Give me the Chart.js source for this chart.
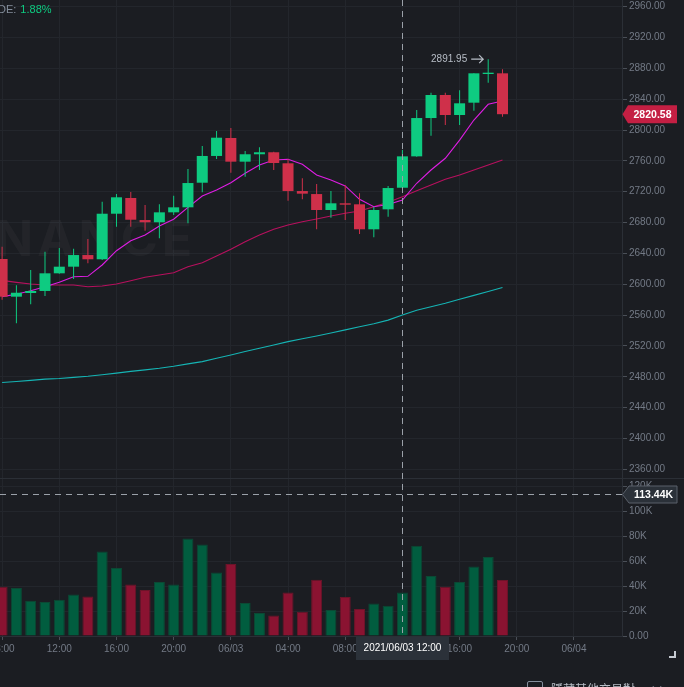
<!DOCTYPE html>
<html>
<head>
<meta charset="utf-8">
<script src="https://cdn.jsdelivr.net/npm/chart.js@4.4.0/dist/chart.umd.min.js"></script>
<style>
html,body{margin:0;padding:0;background:#1b1d22;overflow:hidden;}
#wrap{position:relative;width:684px;height:687px;overflow:hidden;}
#c{position:absolute;left:0;top:0;}
#legend{position:absolute;left:-2px;top:3px;font:11px "Liberation Sans",Arial,sans-serif;color:#848e9c;white-space:nowrap;}
#legend .v{color:#0ecb81;margin-left:4px;}
#foot{position:absolute;left:527px;top:681px;display:flex;align-items:flex-start;font:12px "Noto Sans CJK TC",sans-serif;color:#b7bdc6;white-space:nowrap;}
#foot .cb{width:16px;height:16px;border:1px solid #848e9c;border-radius:2px;box-sizing:border-box;margin-right:8px;}
#foot .t{line-height:16px;}
#foot .x{margin-left:15px;line-height:16px;font-size:14px;color:#848e9c;}
</style>
</head>
<body>
<div id="wrap">
<canvas id="c" width="684" height="687"></canvas>
<div id="legend">DE:<span class="v">1.88%</span></div>
<div id="foot"><span class="cb"></span><span class="t">隱藏其他交易對</span><span class="x">×</span></div>
</div>
<script>
// ---- data (hours since 2021/06/02 00:00, 1h candles) ----
const candleHours = [8,9,10,11,12,13,14,15,16,17,18,19,20,21,22,23,24,25,26,27,28,29,30,31,32,33,34,35,36,37,38,39,40,41,42,43];
const opens  = [2632.8,2583.9,2588.7,2591.3,2614.2,2622.8,2637.9,2632.4,2691.5,2711.9,2683.3,2680.4,2693.3,2699.8,2731.7,2766.4,2789.7,2759.0,2768.6,2771.2,2756.9,2720.9,2717.0,2696.3,2705.0,2703.7,2671.3,2697.2,2725.2,2765.9,2815.6,2845.5,2819.5,2835.5,2872.7,2873.6];
const highs  = [2648.7,2598.6,2618.5,2642.2,2647.0,2646.1,2658.7,2707.1,2717.0,2719.7,2702.8,2703.7,2714.9,2749.5,2779.3,2798.8,2802.7,2772.8,2777.6,2771.8,2762.5,2737.4,2730.0,2721.0,2728.4,2718.0,2700.6,2727.5,2774.1,2826.0,2848.5,2848.5,2851.6,2873.6,2891.95,2878.8];
const lows   = [2580.0,2549.4,2574.0,2584.8,2613.5,2606.9,2627.2,2631.5,2674.6,2674.6,2669.5,2659.6,2689.8,2679.0,2719.3,2762.5,2744.7,2739.5,2748.2,2748.2,2708.4,2710.2,2671.3,2686.3,2683.3,2665.2,2660.9,2687.6,2724.5,2765.5,2792.7,2806.6,2806.6,2825.1,2861.4,2817.3];
const closes = [2583.9,2589.0,2591.3,2614.2,2622.8,2637.9,2632.4,2691.5,2712.8,2683.7,2680.4,2693.3,2699.8,2731.3,2766.4,2790.1,2759.0,2768.6,2771.2,2757.3,2720.9,2717.5,2696.3,2705.0,2703.2,2671.3,2696.3,2724.8,2765.9,2815.6,2845.5,2819.5,2834.7,2873.6,2874.4,2820.58];
const volumes = [39400,38400,28300,27200,29100,33300,31700,67700,54400,41300,36800,43200,41300,78100,73300,50900,57600,26400,18400,16500,34900,19500,45100,20800,31200,21600,26100,24300,34900,72300,48000,39500,43200,55700,63200,44800];
const ma7  = [2584,2587,2591.6,2596.8,2602.5,2609.8,2610.3,2625,2643.5,2656.5,2663.9,2675.6,2684.3,2699.8,2714.5,2722.3,2731.7,2743.9,2754.7,2761.2,2762.1,2755.6,2741.7,2735.2,2727.5,2710.2,2700.6,2703.5,2709.3,2731,2748.2,2763.4,2787,2813,2833.4,2837.7];
const ma25 = [2605,2602.5,2600.3,2599,2599,2599,2596.8,2597.7,2600.3,2604.6,2609,2612,2615,2622.8,2628,2636.7,2645.3,2655.2,2663.9,2671.3,2676.9,2681.1,2684.6,2688.5,2692,2695,2700.6,2706.5,2713.6,2721.4,2728.7,2736.1,2741.7,2748.2,2754.7,2761.2];
const ma99 = [2472.5,2473.9,2475.4,2476.9,2477.8,2479.2,2480.6,2482.7,2484.8,2487,2488.9,2491,2493.6,2496.7,2499.7,2504,2508.2,2512.7,2516.9,2521.3,2525.6,2529.3,2533,2536.8,2540.8,2544.8,2548.8,2553.5,2560,2566.4,2570.9,2575.4,2580.5,2585.6,2590.7,2595.7];
const xTickHours  = [8,12,16,20,24,28,32,36,40,44,48];
const xTickLabels = ["08:00","12:00","16:00","20:00","06/03","04:00","08:00","12:00","16:00","20:00","06/04"];
const priceTicks  = [2360,2400,2440,2480,2520,2560,2600,2640,2680,2720,2760,2800,2840,2880,2920,2960];
const volumeTicks = [0,20000,40000,60000,80000,100000,120000];
const crossHour = 36, crossVolume = 113440, crossTimeLabel = "2021/06/03 12:00";
const lastPrice = 2820.58, maxHigh = 2891.95, maxHighHour = 42;

// ---- styles ----
const UP = '#0ecb81', DOWN = '#cf304a';
const VUP = '#015d3f', VDOWN = '#8a1331', VUPB = '#0b4934', VDOWNB = '#6c1429';
const GRID = '#23262c', AXIS = '#2b2f36', TXT = '#737a86';
const FONT = '"Liberation Sans", Arial, sans-serif';

const isUp = i => closes[i] >= opens[i];
const bodyData = candleHours.map((h,i)=>({x:h, y:[opens[i], closes[i]]}));
const wickData = candleHours.map((h,i)=>({x:h, y:[lows[i], highs[i]]}));
const volData  = candleHours.map((h,i)=>({x:h, y:volumes[i]}));
const lineData = arr => candleHours.map((h,i)=>({x:h, y:arr[i]}));

const overlay = {
  id:'overlay',
  beforeDatasetsDraw(chart){
    const ctx = chart.ctx;
    ctx.save();
    ctx.font = 'bold 50px Inter, "Liberation Sans", sans-serif';
    try{ ctx.letterSpacing = '4px'; }catch(e){}
    ctx.fillStyle = 'rgba(255,255,255,0.035)';
    ctx.textAlign = 'right';
    ctx.textBaseline = 'alphabetic';
    ctx.fillText('BINANCE', 196, 256);
    ctx.restore();
  },
  afterDraw(chart){
    const ctx = chart.ctx, xs = chart.scales.x, ys = chart.scales.y, yv = chart.scales.yv;
    const area = chart.chartArea;
    ctx.save();
    // pane separator
    ctx.strokeStyle = AXIS; ctx.lineWidth = 1;
    ctx.beginPath(); ctx.moveTo(0, ys.bottom + 0.5); ctx.lineTo(684, ys.bottom + 0.5); ctx.stroke();
    // crosshair
    const cx = Math.round(xs.getPixelForValue(crossHour)) + 0.5;
    const cy = Math.round(yv.getPixelForValue(crossVolume)) + 0.5;
    ctx.strokeStyle = '#9ba1a9'; ctx.setLineDash([6,5]);
    ctx.beginPath(); ctx.moveTo(cx, area.top); ctx.lineTo(cx, area.bottom); ctx.stroke();
    ctx.beginPath(); ctx.moveTo(area.left, cy); ctx.lineTo(area.right, cy); ctx.stroke();
    ctx.setLineDash([]);
    // last price tag
    const py = ys.getPixelForValue(lastPrice);
    const ax = area.right;
    ctx.fillStyle = '#c41f43';
    ctx.beginPath();
    ctx.moveTo(ax + 0.5, py); ctx.lineTo(ax + 6, py - 9); ctx.lineTo(677, py - 9);
    ctx.lineTo(677, py + 9); ctx.lineTo(ax + 6, py + 9); ctx.closePath(); ctx.fill();
    ctx.fillStyle = '#ffffff'; ctx.font = 'bold 10.5px ' + FONT;
    ctx.textAlign = 'center'; ctx.textBaseline = 'middle';
    ctx.fillText(lastPrice.toFixed(2), 652.5, py + 0.5);
    // volume crosshair tag
    ctx.fillStyle = '#2b3139'; ctx.strokeStyle = '#5a606a';
    ctx.beginPath();
    ctx.moveTo(ax + 0.5, cy); ctx.lineTo(ax + 7, cy - 8.5); ctx.lineTo(677, cy - 8.5);
    ctx.lineTo(677, cy + 8.5); ctx.lineTo(ax + 7, cy + 8.5); ctx.closePath(); ctx.fill(); ctx.stroke();
    ctx.fillStyle = '#ffffff'; ctx.font = 'bold 10.5px ' + FONT;
    ctx.fillText((crossVolume/1000).toFixed(2) + 'K', 653.5, cy + 0.5);
    // time crosshair tag
    ctx.fillStyle = '#2b3139';
    ctx.fillRect(cx - 46.5, area.bottom + 1, 93, 23);
    ctx.fillStyle = '#ffffff'; ctx.font = '10px ' + FONT;
    ctx.fillText(crossTimeLabel, cx, area.bottom + 12.5);
    // max high marker
    const mx = xs.getPixelForValue(maxHighHour), my = ys.getPixelForValue(maxHigh);
    ctx.fillStyle = '#b7bdc6'; ctx.font = '10px ' + FONT;
    ctx.textAlign = 'right';
    ctx.fillText(maxHigh.toFixed(2), mx - 21, my);
    ctx.strokeStyle = '#b7bdc6'; ctx.lineWidth = 1.2;
    ctx.beginPath(); ctx.moveTo(mx - 17, my); ctx.lineTo(mx - 5, my);
    ctx.moveTo(mx - 9, my - 4); ctx.lineTo(mx - 5, my); ctx.lineTo(mx - 9, my + 4); ctx.stroke();
    // corner mark
    ctx.strokeStyle = '#c5cad1'; ctx.lineWidth = 2;
    ctx.beginPath(); ctx.moveTo(675, 651); ctx.lineTo(675, 657); ctx.lineTo(669, 657); ctx.stroke();
    ctx.restore();
  }
};

const tickFont = {family: FONT, size: 10};

new Chart(document.getElementById('c'), {
  data: {
    datasets: [
      {type:'bar', data: bodyData, yAxisID:'y', xAxisID:'x', order:0, grouped:false,
       barThickness:11, borderWidth:0, inflateAmount:0,
       backgroundColor: candleHours.map((h,i)=> isUp(i) ? UP : DOWN)},
      {type:'bar', data: wickData, yAxisID:'y', xAxisID:'x', order:1, grouped:false,
       barThickness:1, borderWidth:0, inflateAmount:0,
       backgroundColor: candleHours.map((h,i)=> isUp(i) ? UP : DOWN)},
      {type:'bar', data: volData, yAxisID:'yv', xAxisID:'x', order:2, grouped:false,
       barThickness:11, borderWidth:1, inflateAmount:0,
       backgroundColor: candleHours.map((h,i)=> isUp(i) ? VUP : VDOWN),
       borderColor: candleHours.map((h,i)=> isUp(i) ? VUPB : VDOWNB)},
      {type:'line', data: lineData(ma7), yAxisID:'y', xAxisID:'x', order:3,
       borderColor:'#de1de3', borderWidth:1.1, pointRadius:0, tension:0},
      {type:'line', data: lineData(ma25), yAxisID:'y', xAxisID:'x', order:4,
       borderColor:'#b8105e', borderWidth:1.1, pointRadius:0, tension:0},
      {type:'line', data: lineData(ma99), yAxisID:'y', xAxisID:'x', order:5,
       borderColor:'#15b4b4', borderWidth:1.1, pointRadius:0, tension:0}
    ]
  },
  options: {
    responsive:false, animation:false, events:[],
    layout:{padding:{left:0, right:0, top:0, bottom:27}},
    plugins:{legend:{display:false}, tooltip:{enabled:false}},
    scales:{
      x:{type:'linear', position:'bottom', min:7.853, max:51.359, offset:false,
        afterBuildTicks: s => { s.ticks = xTickHours.map(v=>({value:v})); },
        ticks:{autoSkip:false, maxRotation:0, color:TXT, font:tickFont, padding:3,
          callback:(v,i)=> xTickLabels[i]},
        grid:{color:GRID, tickColor:'#4a4f57', tickLength:4, offset:false},
        border:{color:AXIS},
        afterFit: s => { s.height = 24; s.paddingLeft = 0; s.paddingRight = 0; }
      },
      y:{type:'linear', position:'right', stack:'panes', stackWeight:478,
        min:2348.72, max:2968.69,
        afterBuildTicks: s => { s.ticks = priceTicks.map(v=>({value:v})); },
        ticks:{autoSkip:false, color:TXT, font:tickFont, padding:2, callback:v=> Number(v).toFixed(2)},
        grid:{color:GRID, tickColor:'#4a4f57', tickLength:5},
        border:{color:AXIS},
        afterFit: s => { s.width = 62; s.paddingTop = 0; s.paddingBottom = 0; }
      },
      yv:{type:'linear', position:'right', stack:'panes', stackWeight:158,
        min:0, max:126400,
        afterBuildTicks: s => { s.ticks = volumeTicks.map(v=>({value:v})); },
        ticks:{autoSkip:false, color:TXT, font:tickFont, padding:2, callback:v=> v===0 ? '0.00' : (v/1000)+'K'},
        grid:{color:GRID, tickColor:'#4a4f57', tickLength:5},
        border:{color:AXIS},
        afterFit: s => { s.width = 62; s.paddingTop = 0; s.paddingBottom = 0; }
      }
    }
  },
  plugins:[overlay]
});
</script>
</body>
</html>
